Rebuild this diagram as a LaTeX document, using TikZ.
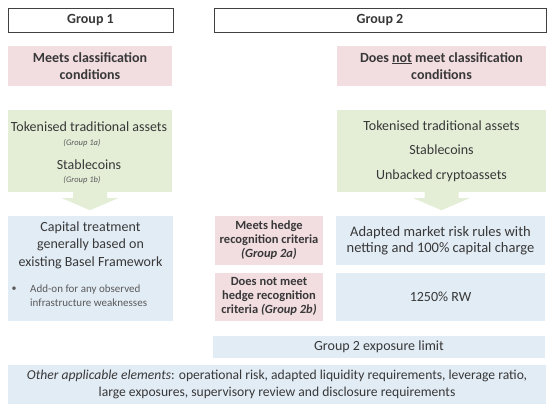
\documentclass[tikz,border=0pt]{standalone}
\usepackage{fontspec}
\setmainfont{Carlito}
\definecolor{pinkc}{HTML}{F2DDE0}
\definecolor{greenc}{HTML}{E4EED7}
\definecolor{bluec}{HTML}{E2ECF5}
\definecolor{txt}{HTML}{383838}
\definecolor{subtxt}{HTML}{5A5A5A}
\tikzset{
  hdr/.style={draw=black!75, line width=1pt, fill=white, text=txt, inner sep=0pt,
    font=\bfseries\fontsize{14}{16}\selectfont},
  pinkbox/.style={fill=pinkc, inner sep=0pt, text=txt, align=center},
  greenbox/.style={fill=greenc, inner sep=0pt, text=txt, align=center},
  bluebox/.style={fill=bluec, inner sep=0pt, text=txt, align=center},
  txtnode/.style={inner sep=0pt, text=txt},
  arrowfill/.style={fill=greenc, draw=none},
}
\begin{document}
\begin{tikzpicture}[x=1pt,y=-1pt]
\useasboundingbox[fill=white] (0,0) rectangle (554,416);

% headers
\node[hdr, minimum width=165pt, minimum height=24pt] (g1) at (90.5,20) {Group 1};
\node[hdr, minimum width=332pt, minimum height=24pt] (g2) at (380,20) {Group 2};

% classification conditions
\node[pinkbox, minimum width=164pt, minimum height=40pt,
  font=\bfseries\fontsize{14}{17.5}\selectfont] (pl) at (90,66)
  {Meets classification\\conditions};
\node[pinkbox, minimum width=209pt, minimum height=40pt,
  font=\bfseries\fontsize{14}{17.5}\selectfont] (pr) at (441.5,66)
  {Does \underline{not} meet classification\\conditions};

% green boxes with down arrows
\node[greenbox, minimum width=164pt, minimum height=82pt] (gl) at (90,151) {};
\node[greenbox, minimum width=209pt, minimum height=82pt] (gr) at (441.5,151) {};
\fill[arrowfill] ([xshift=-17pt]gl.south) -- ++(0,6) -- ++(-11,0) -- ([yshift=-18pt]gl.south)
  -- ([xshift=28pt,yshift=-6pt]gl.south) -- ++(-11,0) -- ([xshift=17pt]gl.south) -- cycle;
\fill[arrowfill] ([xshift=-17pt]gr.south) -- ++(0,6) -- ++(-11,0) -- ([yshift=-18pt]gr.south)
  -- ([xshift=28pt,yshift=-6pt]gr.south) -- ++(-11,0) -- ([xshift=17pt]gr.south) -- cycle;

\node[txtnode, font=\fontsize{14}{16}\selectfont] (t1) at (89,127) {Tokenised traditional assets};
\node[txtnode, text=subtxt, font=\itshape\fontsize{8.5}{10}\selectfont] (t1a) at (82,143) {(Group 1a)};
\node[txtnode, font=\fontsize{14}{16}\selectfont] (t2) at (89,165) {Stablecoins};
\node[txtnode, text=subtxt, font=\itshape\fontsize{8.5}{10}\selectfont] (t1b) at (82,180) {(Group 1b)};

\node[txtnode, align=center, font=\fontsize{14}{24.5}\selectfont] (tr) at (441.5,151)
  {Tokenised traditional assets\\Stablecoins\\Unbacked cryptoassets};

% Group 1 capital treatment
\node[bluebox, minimum width=165pt, minimum height=105pt] (bl) at (90.5,268.5) {};
\node[txtnode, align=center, font=\fontsize{14}{17.5}\selectfont] (cap) at (90.5,245)
  {Capital treatment\\generally based on\\existing Basel Framework};
\node[txtnode, text=subtxt, font=\fontsize{10}{10}\selectfont] (bul) at (14,289) {\textbullet};
\node[txtnode, text=subtxt, anchor=west, align=left, font=\fontsize{11}{14}\selectfont] (addon) at (30,296)
  {Add-on for any observed\\infrastructure weaknesses};

% hedge recognition
\node[pinkbox, minimum width=108pt, minimum height=49pt,
  font=\bfseries\fontsize{12.5}{14}\selectfont] (h1) at (269,240.5)
  {Meets hedge\\recognition criteria\\\textit{(Group 2a)}};
\node[pinkbox, minimum width=108pt, minimum height=48pt,
  font=\bfseries\fontsize{12.5}{14}\selectfont] (h2) at (269,296.5)
  {Does not meet\\hedge recognition\\criteria \textit{(Group 2b)}};
\node[bluebox, minimum width=209pt, minimum height=49pt,
  font=\fontsize{14.5}{16.5}\selectfont] (m1) at (440.5,240.5)
  {Adapted market risk rules with\\netting and 100\% capital charge};
\node[bluebox, minimum width=209pt, minimum height=48pt,
  font=\fontsize{14}{16}\selectfont] (m2) at (440.5,297) {1250\% RW};

% limits
\node[bluebox, minimum width=332pt, minimum height=22pt,
  font=\fontsize{14}{16}\selectfont] (lim) at (379,347) {Group 2 exposure limit};
\node[bluebox, minimum width=538pt, minimum height=39pt,
  font=\fontsize{13.6}{17}\selectfont] (oth) at (277,384.5)
  {\textit{Other applicable elements}: operational risk, adapted liquidity requirements, leverage ratio,\\large exposures, supervisory review and disclosure requirements};
\end{tikzpicture}
\end{document}
